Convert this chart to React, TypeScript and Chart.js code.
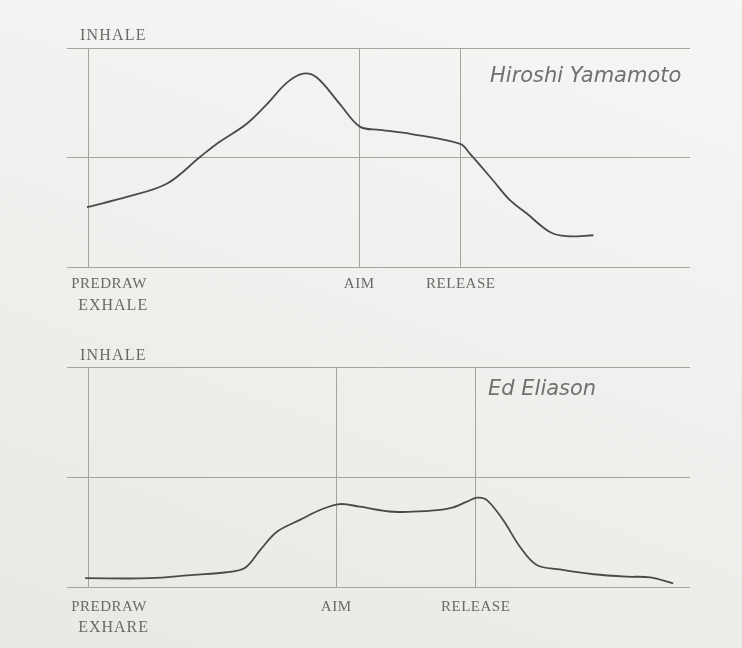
import React, { useEffect, useRef } from "react";
import { Chart, registerables } from "chart.js";

Chart.register(...registerables);

// ---- data ----
const PHASES = ["PREDRAW", "AIM", "RELEASE"];
const TOP_LABEL = "INHALE";

const YAMAMOTO_NAME = "Hiroshi Yamamoto";
const YAMAMOTO_BOTTOM_LABEL = "EXHALE";
const YAMAMOTO_PHASE_T = [3.4, 46.9, 63.2];
const YAMAMOTO_T = [3.2, 9.6, 16.0, 21.3, 24.0, 28.8, 32.1, 35.3, 37.9, 40.1, 43.8, 47.0, 50.2, 55.1, 63.1, 64.7, 68.4, 71.1, 73.8, 77.5, 80.2, 84.5];
const YAMAMOTO_BREATH = [27.3, 32.0, 38.0, 50.1, 56.2, 65.3, 74.4, 84.2, 88.3, 86.5, 74.4, 64.1, 62.6, 60.8, 56.2, 51.7, 39.5, 30.5, 24.4, 16.0, 14.1, 14.5];

const ELIASON_NAME = "Ed Eliason";
const ELIASON_BOTTOM_LABEL = "EXHARE";
const ELIASON_PHASE_T = [3.4, 43.2, 65.6];
const ELIASON_T = [2.9, 13.3, 20.3, 25.6, 28.6, 31.0, 33.7, 37.4, 40.6, 43.8, 47.0, 52.4, 57.7, 61.5, 64.2, 65.8, 67.4, 70.0, 72.7, 75.4, 79.1, 84.5, 89.8, 93.6, 97.3];
const ELIASON_BREATH = [4.0, 4.0, 5.5, 6.7, 8.8, 16.8, 25.1, 30.5, 35.0, 37.7, 36.5, 34.2, 34.5, 35.8, 38.8, 40.6, 39.5, 30.5, 18.3, 10.0, 8.0, 5.8, 4.7, 4.4, 1.7];

const Y_MIN = 0;
const Y_MAX = 100;
const Y_STEP = 50;
const T_MIN = 0;
const T_MAX = 100;

// ---- styles ----
const TEXT_COLOR = "#6a6a68";
const GRID_COLOR = "#a3a3a0";
const LINE_COLOR = "#4a4a48";

type Layout = {
  padding: { left: number; right: number; top: number; bottom: number };
  inhaleGap: number;
  phaseGap: number;
  exhaleGap: number;
  nameX: number;
  nameY: number;
};

function BreathChart(props: {
  name: string;
  t: number[];
  v: number[];
  phaseT: number[];
  bottomLabel: string;
  layout: Layout;
  top: number;
}) {
  const ref = useRef<HTMLCanvasElement | null>(null);
  useEffect(() => {
    const canvas = ref.current;
    if (!canvas) return;
    const { name, t, v, phaseT, bottomLabel, layout } = props;
    const labelPlugin = {
      id: "breathLabels",
      afterDraw(chart: any) {
        const { ctx, chartArea, scales } = chart;
        const x = scales.x;
        ctx.save();
        ctx.fillStyle = TEXT_COLOR;
        ctx.textBaseline = "alphabetic";
        ctx.font = '16px "Liberation Serif", serif';
        ctx.textAlign = "left";
        (ctx as any).letterSpacing = "1.2px";
        ctx.fillText(TOP_LABEL, chartArea.left + 13, chartArea.top - layout.inhaleGap);
        ctx.font = '15px "Liberation Serif", serif';
        (ctx as any).letterSpacing = "0.5px";
        phaseT.forEach((pt, i) => {
          const px = x.getPixelForValue(pt);
          if (i === 0) {
            ctx.textAlign = "left";
            ctx.fillText(PHASES[i], px - 17, chartArea.bottom + layout.phaseGap);
          } else {
            ctx.textAlign = "center";
            ctx.fillText(PHASES[i], px, chartArea.bottom + layout.phaseGap);
          }
        });
        ctx.textAlign = "left";
        (ctx as any).letterSpacing = "1px";
        ctx.font = '16px "Liberation Serif", serif';
        ctx.fillText(bottomLabel, x.getPixelForValue(phaseT[0]) - 10, chartArea.bottom + layout.exhaleGap);
        (ctx as any).letterSpacing = "0px";
        ctx.font = 'italic 200 21px "DejaVu Sans", sans-serif';
        ctx.fillStyle = "#70706e";
        ctx.fillText(name, chartArea.left + layout.nameX, chartArea.top + layout.nameY);
        ctx.restore();
      },
    };
    const chart = new Chart(canvas, {
      type: "line",
      data: {
        datasets: [
          {
            data: t.map((tt, i) => ({ x: tt, y: v[i] })),
            borderColor: LINE_COLOR,
            borderWidth: 1.8,
            pointRadius: 0,
            fill: false,
            tension: 0.35,
          },
        ],
      },
      options: {
        responsive: false,
        maintainAspectRatio: false,
        animation: false,
        devicePixelRatio: 1,
        layout: { padding: layout.padding },
        plugins: { legend: { display: false }, tooltip: { enabled: false } },
        scales: {
          x: {
            type: "linear",
            min: T_MIN,
            max: T_MAX,
            afterBuildTicks: (scale: any) => {
              scale.ticks = phaseT.map((p) => ({ value: p }));
            },
            ticks: { display: false },
            border: { display: false },
            grid: { color: GRID_COLOR, lineWidth: 1, drawTicks: false },
          },
          y: {
            type: "linear",
            min: Y_MIN,
            max: Y_MAX,
            ticks: { display: false, stepSize: Y_STEP },
            border: { display: false },
            grid: { color: GRID_COLOR, lineWidth: 1, drawTicks: false },
          },
        },
      },
      plugins: [labelPlugin],
    } as any);
    return () => chart.destroy();
  }, []);
  return (
    <canvas
      ref={ref}
      width={742}
      height={324}
      style={{ position: "absolute", left: 0, top: props.top, width: 742, height: 324, display: "block" }}
    />
  );
}

export default function App() {
  return (
    <div
      style={{
        position: "fixed",
        left: 0,
        top: 0,
        width: 742,
        height: 648,
        overflow: "hidden",
        background: "linear-gradient(200deg, #f6f6f4 0%, #f0f0ee 45%, #e8e8e5 100%)",
      }}
    >
      <BreathChart
        name={YAMAMOTO_NAME}
        t={YAMAMOTO_T}
        v={YAMAMOTO_BREATH}
        phaseT={YAMAMOTO_PHASE_T}
        bottomLabel={YAMAMOTO_BOTTOM_LABEL}
        top={0}
        layout={{
          padding: { left: 67, right: 52, top: 48, bottom: 57 },
          inhaleGap: 8,
          phaseGap: 21,
          exhaleGap: 43,
          nameX: 423,
          nameY: 34,
        }}
      />
      <BreathChart
        name={ELIASON_NAME}
        t={ELIASON_T}
        v={ELIASON_BREATH}
        phaseT={ELIASON_PHASE_T}
        bottomLabel={ELIASON_BOTTOM_LABEL}
        top={324}
        layout={{
          padding: { left: 67, right: 52, top: 43, bottom: 61 },
          inhaleGap: 7,
          phaseGap: 24,
          exhaleGap: 45,
          nameX: 421,
          nameY: 28,
        }}
      />
    </div>
  );
}
